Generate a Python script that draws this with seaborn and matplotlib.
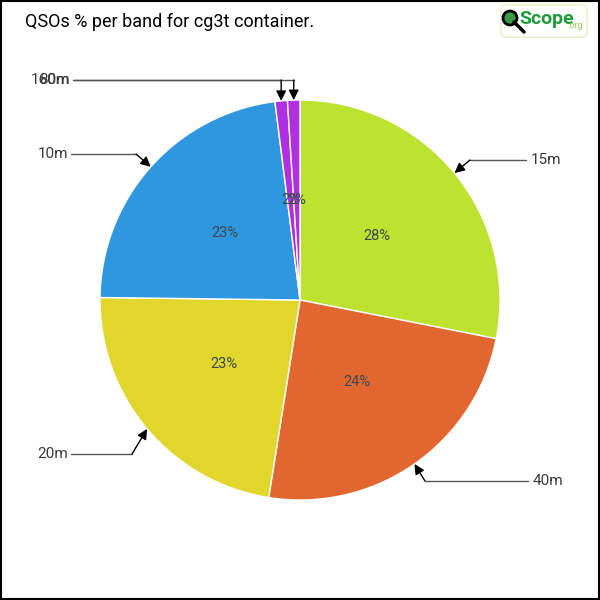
import numpy as np
import matplotlib
matplotlib.use('Agg')
import matplotlib.pyplot as plt
import seaborn as sns
from matplotlib.patches import FancyBboxPatch, Circle

sns.set_theme(style='white')
plt.rcParams['font.family'] = ['Roboto', 'DejaVu Sans']

# dados
bandas = ['15m', '40m', '20m', '10m', '160m', '80m']
valores = [28.1, 24.4, 22.7, 22.8, 1.0, 1.0]
rotulos_pct = ['28%', '24%', '23%', '23%', '2%', '2%']
cores = sns.color_palette(['#bde22f', '#e2662f', '#e0d62c', '#2f97e0', '#b02fe0', '#b02fe0'])

# posicao dos textos de cada banda (texto, cotovelo); None = cotovelo acima da ponta
pos_texto = {
    '15m': ((1.155, 0.70), (0.85, 0.70), 'left'),
    '40m': ((1.165, -0.905), (0.625, -0.905), 'left'),
    '20m': ((-1.16, -0.77), (-0.84, -0.77), 'right'),
    '10m': ((-1.16, 0.73), (-0.82, 0.73), 'right'),
    '160m': ((-1.15, 1.10), (None, 1.10), 'right'),
    '80m': ((-1.15, 1.10), (None, 1.10), 'right'),
}

fig = plt.figure(figsize=(6, 6), dpi=100)
ax = fig.add_axes([0, 0, 1, 1])

fatias, _ = ax.pie(valores, colors=cores, startangle=90, counterclock=False,
                   radius=1, wedgeprops=dict(edgecolor='white', linewidth=1))
ax.set_xlim(-1.5, 1.5)
ax.set_ylim(-1.5, 1.5)
ax.set_aspect('equal')
ax.axis('off')

for fatia, banda, pct in zip(fatias, bandas, rotulos_pct):
    ang = np.deg2rad((fatia.theta1 + fatia.theta2) / 2)
    ax.text(0.5 * np.cos(ang), 0.5 * np.sin(ang), pct, ha='center', va='center',
            fontsize=10.5, color='#3a4a50')
    (tx, ty), (ex, ey), ha = pos_texto[banda]
    ponta = (np.cos(ang), np.sin(ang))
    if ex is None:
        ex = ponta[0]
    ax.text(tx, ty, banda, ha=ha, va='center', fontsize=11, color='#3a3a3a')
    xs = tx + 0.015 if ha == 'right' else tx - 0.025
    ax.plot([xs, ex], [ty, ey], color='#555555', lw=1)
    ax.annotate('', xy=ponta, xytext=(ex, ey),
                arrowprops=dict(arrowstyle='-|>', color='black', lw=1,
                                mutation_scale=15, shrinkA=0, shrinkB=0))

fig.text(25 / 600, 1 - 22 / 600, 'QSOs % per band for cg3t container.',
         fontsize=13, color='black', ha='left', va='center')

# logo
logo = FancyBboxPatch((502 / 600, 1 - 36 / 600), 84 / 600, 30 / 600,
                      boxstyle='round,pad=0.002,rounding_size=0.01',
                      transform=fig.transFigure, facecolor='white',
                      edgecolor='#e6efc0', lw=1)
fig.patches.append(logo)
fig.lines.append(plt.Line2D([514 / 600, 524 / 600], [1 - 22 / 600, 1 - 32 / 600],
                            transform=fig.transFigure, color='black', lw=2.5))
fig.patches.append(Circle((510 / 600, 1 - 18 / 600), 7 / 600, transform=fig.transFigure,
                          facecolor='#3a9a4a', edgecolor='black', lw=2))
fig.text(519 / 600, 1 - 19 / 600, 'Scope', fontsize=14, color='#1d9a3a',
         fontweight='bold', ha='left', va='center')
fig.text(567 / 600, 1 - 25 / 600, '.org', fontsize=6.5, color='#8ccf5a',
         ha='left', va='center')

# borda
fig.patches.append(plt.Rectangle((0.001, 0.001), 0.997, 0.997, transform=fig.transFigure,
                                 fill=False, edgecolor='black', lw=1.5))

fig.savefig('out.png', dpi=100)
